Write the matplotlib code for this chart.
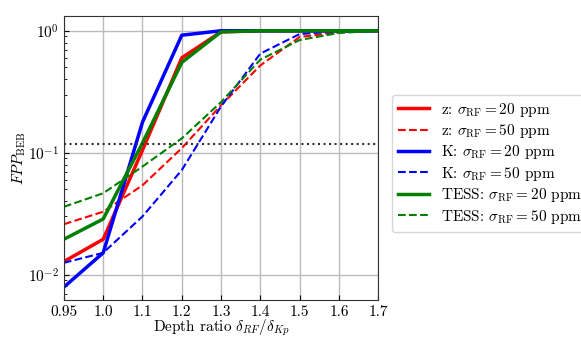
import matplotlib
matplotlib.use("Agg")
import matplotlib.pyplot as plt
import numpy as np

plt.rcParams['font.family'] = 'serif'
plt.rcParams['font.serif'] = ['cmr10', 'DejaVu Serif']
plt.rcParams['mathtext.fontset'] = 'cm'
plt.rcParams['axes.formatter.use_mathtext'] = True
plt.rcParams['font.size'] = 11

tick_labels = ['0.95', '1.0', '1.1', '1.2', '1.3', '1.4', '1.5', '1.6', '1.7']

z_20 = [0.0128, 0.0195, 0.105, 0.60, 0.98, 1.0, 1.0, 1.0, 1.0]
z_50 = [0.0259, 0.0328, 0.054, 0.109, 0.245, 0.52, 0.89, 0.97, 1.0]
k_20 = [0.0079, 0.0151, 0.178, 0.92, 1.0, 1.0, 1.0, 1.0, 1.0]
k_50 = [0.0125, 0.0151, 0.030, 0.072, 0.24, 0.65, 0.94, 0.99, 1.0]
t_20 = [0.0195, 0.0286, 0.12, 0.55, 0.98, 1.0, 1.0, 1.0, 1.0]
t_50 = [0.036, 0.0465, 0.077, 0.131, 0.26, 0.58, 0.84, 0.96, 1.0]
threshold = 0.117

x = np.arange(len(tick_labels))

fig = plt.figure(figsize=(5.81, 3.42), dpi=100)
ax = fig.add_axes([0.110, 0.123, 0.541, 0.830])

ax.plot(x, z_20, color='red', lw=2.5, label=r'z: $\sigma_{\rm RF}=20$ ppm')
ax.plot(x, z_50, color='red', lw=1.5, ls='--', label=r'z: $\sigma_{\rm RF}=50$ ppm')
ax.plot(x, k_20, color='blue', lw=2.5, label=r'K: $\sigma_{\rm RF}=20$ ppm')
ax.plot(x, k_50, color='blue', lw=1.5, ls='--', label=r'K: $\sigma_{\rm RF}=50$ ppm')
ax.plot(x, t_20, color='green', lw=2.5, label=r'TESS: $\sigma_{\rm RF}=20$ ppm')
ax.plot(x, t_50, color='green', lw=1.5, ls='--', label=r'TESS: $\sigma_{\rm RF}=50$ ppm')
ax.axhline(threshold, color='#333333', ls=':', lw=1.5)

ax.set_yscale('log')
ax.set_ylim(0.0062, 1.32)
ax.set_xlim(0, len(tick_labels) - 1)
ax.set_xticks(x)
ax.set_xticklabels(tick_labels)
ax.grid(True, which='major', color='#bbbbbb', lw=1.0)
ax.set_axisbelow(True)
ax.tick_params(direction='in', which='both')
for s in ax.spines.values():
    s.set_color('#333333')

ax.set_xlabel(r'Depth ratio $\delta_{RF}/\delta_{Kp}$', labelpad=-1)
ax.set_ylabel(r'$FPP_{\rm BEB}$', labelpad=0)

ax.legend(loc='center left', bbox_to_anchor=(1.02, 0.482), fontsize=11,
          labelspacing=0.22)

fig.savefig('out.png', dpi=100)
